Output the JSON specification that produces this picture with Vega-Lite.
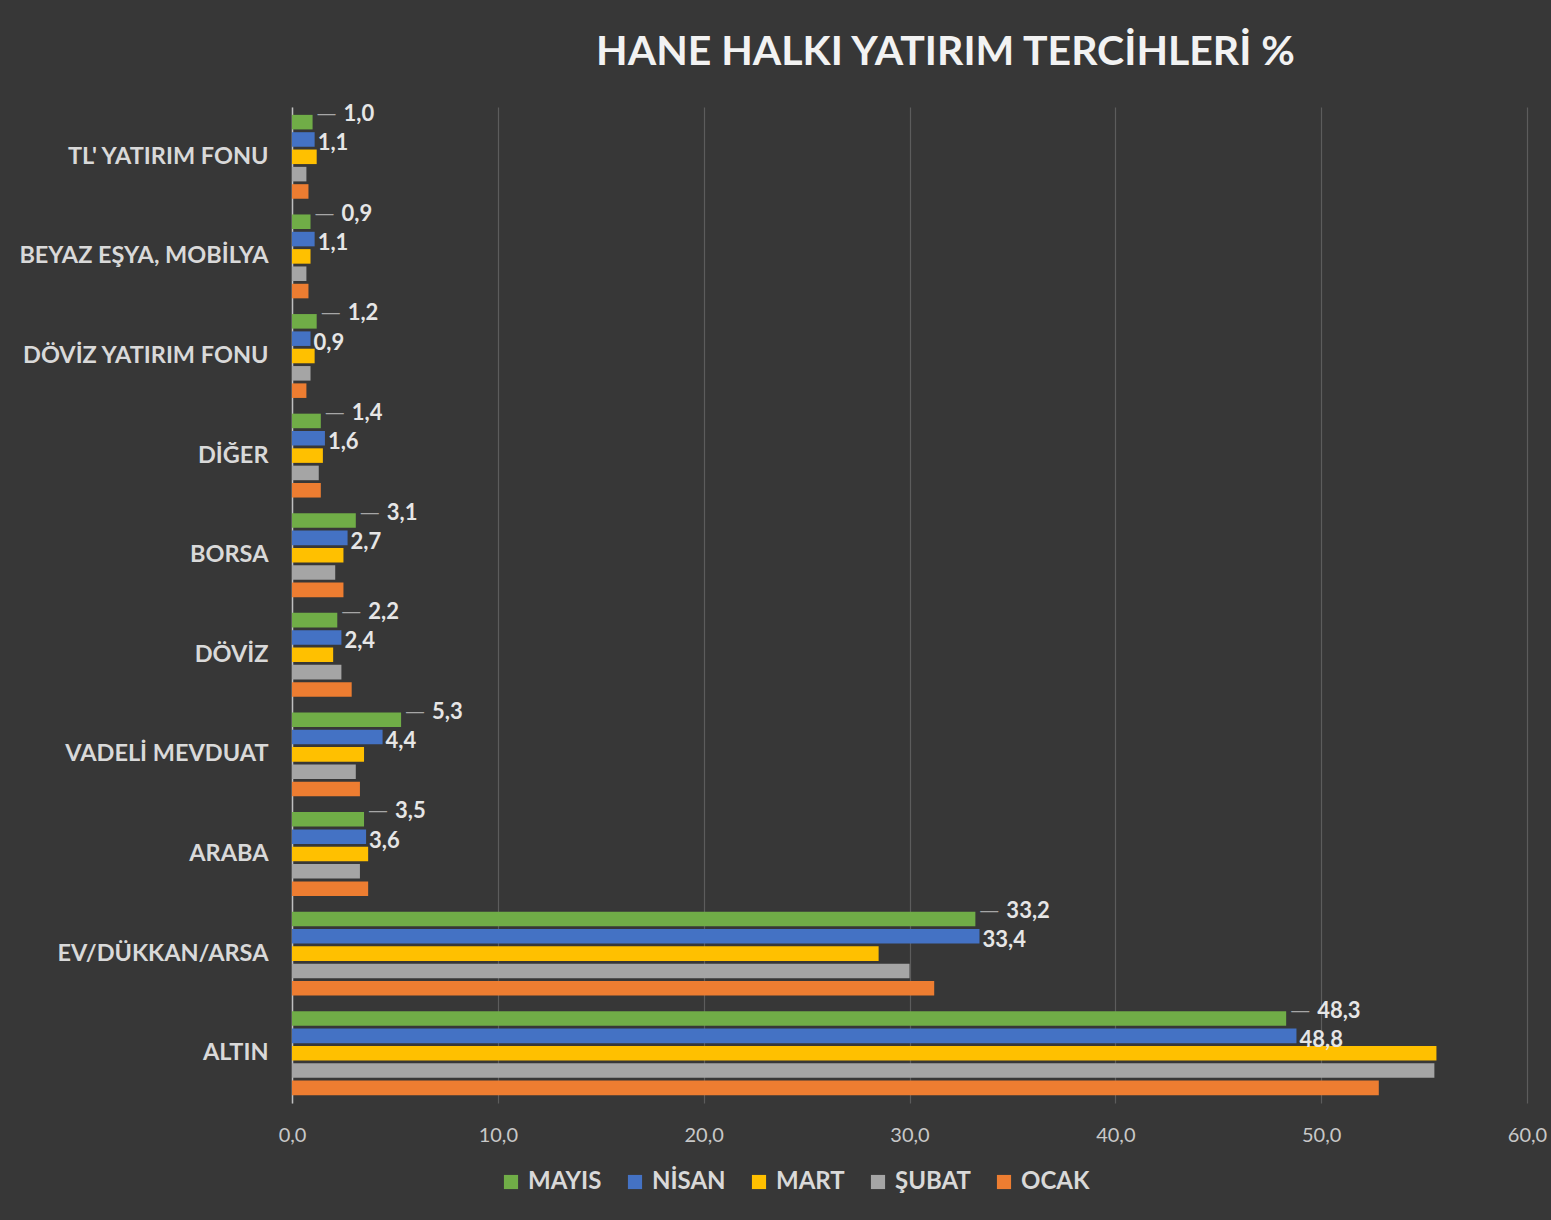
{
  "$schema": "https://vega.github.io/schema/vega-lite/v6.json",
  "width": 1235,
  "height": 996,
  "autosize": {"type": "none"},
  "padding": {"left": 292, "top": 107, "right": 24, "bottom": 117},
  "background": "#373737",
  "config": {
    "view": {"stroke": null},
    "locale": {"number": {"decimal": ",", "thousands": ".", "grouping": [3], "currency": ["", " TL"]}},
    "font": "Lato"
  },
  "title": {
    "text": "HANE HALKI YATIRIM TERCİHLERİ %",
    "font": "Lato",
    "fontSize": 41,
    "fontWeight": "bold",
    "color": "#f2f2f2",
    "anchor": "middle",
    "dx": 36,
    "offset": 29
  },
  "data": {
    "values": [
      {"kategori": "TL' YATIRIM FONU", "ay": "MAYIS", "deger": 1.0},
      {"kategori": "TL' YATIRIM FONU", "ay": "NİSAN", "deger": 1.1},
      {"kategori": "TL' YATIRIM FONU", "ay": "MART", "deger": 1.2},
      {"kategori": "TL' YATIRIM FONU", "ay": "ŞUBAT", "deger": 0.7},
      {"kategori": "TL' YATIRIM FONU", "ay": "OCAK", "deger": 0.8},
      {"kategori": "BEYAZ EŞYA, MOBİLYA", "ay": "MAYIS", "deger": 0.9},
      {"kategori": "BEYAZ EŞYA, MOBİLYA", "ay": "NİSAN", "deger": 1.1},
      {"kategori": "BEYAZ EŞYA, MOBİLYA", "ay": "MART", "deger": 0.9},
      {"kategori": "BEYAZ EŞYA, MOBİLYA", "ay": "ŞUBAT", "deger": 0.7},
      {"kategori": "BEYAZ EŞYA, MOBİLYA", "ay": "OCAK", "deger": 0.8},
      {"kategori": "DÖVİZ YATIRIM FONU", "ay": "MAYIS", "deger": 1.2},
      {"kategori": "DÖVİZ YATIRIM FONU", "ay": "NİSAN", "deger": 0.9},
      {"kategori": "DÖVİZ YATIRIM FONU", "ay": "MART", "deger": 1.1},
      {"kategori": "DÖVİZ YATIRIM FONU", "ay": "ŞUBAT", "deger": 0.9},
      {"kategori": "DÖVİZ YATIRIM FONU", "ay": "OCAK", "deger": 0.7},
      {"kategori": "DİĞER", "ay": "MAYIS", "deger": 1.4},
      {"kategori": "DİĞER", "ay": "NİSAN", "deger": 1.6},
      {"kategori": "DİĞER", "ay": "MART", "deger": 1.5},
      {"kategori": "DİĞER", "ay": "ŞUBAT", "deger": 1.3},
      {"kategori": "DİĞER", "ay": "OCAK", "deger": 1.4},
      {"kategori": "BORSA", "ay": "MAYIS", "deger": 3.1},
      {"kategori": "BORSA", "ay": "NİSAN", "deger": 2.7},
      {"kategori": "BORSA", "ay": "MART", "deger": 2.5},
      {"kategori": "BORSA", "ay": "ŞUBAT", "deger": 2.1},
      {"kategori": "BORSA", "ay": "OCAK", "deger": 2.5},
      {"kategori": "DÖVİZ", "ay": "MAYIS", "deger": 2.2},
      {"kategori": "DÖVİZ", "ay": "NİSAN", "deger": 2.4},
      {"kategori": "DÖVİZ", "ay": "MART", "deger": 2.0},
      {"kategori": "DÖVİZ", "ay": "ŞUBAT", "deger": 2.4},
      {"kategori": "DÖVİZ", "ay": "OCAK", "deger": 2.9},
      {"kategori": "VADELİ MEVDUAT", "ay": "MAYIS", "deger": 5.3},
      {"kategori": "VADELİ MEVDUAT", "ay": "NİSAN", "deger": 4.4},
      {"kategori": "VADELİ MEVDUAT", "ay": "MART", "deger": 3.5},
      {"kategori": "VADELİ MEVDUAT", "ay": "ŞUBAT", "deger": 3.1},
      {"kategori": "VADELİ MEVDUAT", "ay": "OCAK", "deger": 3.3},
      {"kategori": "ARABA", "ay": "MAYIS", "deger": 3.5},
      {"kategori": "ARABA", "ay": "NİSAN", "deger": 3.6},
      {"kategori": "ARABA", "ay": "MART", "deger": 3.7},
      {"kategori": "ARABA", "ay": "ŞUBAT", "deger": 3.3},
      {"kategori": "ARABA", "ay": "OCAK", "deger": 3.7},
      {"kategori": "EV/DÜKKAN/ARSA", "ay": "MAYIS", "deger": 33.2},
      {"kategori": "EV/DÜKKAN/ARSA", "ay": "NİSAN", "deger": 33.4},
      {"kategori": "EV/DÜKKAN/ARSA", "ay": "MART", "deger": 28.5},
      {"kategori": "EV/DÜKKAN/ARSA", "ay": "ŞUBAT", "deger": 30.0},
      {"kategori": "EV/DÜKKAN/ARSA", "ay": "OCAK", "deger": 31.2},
      {"kategori": "ALTIN", "ay": "MAYIS", "deger": 48.3},
      {"kategori": "ALTIN", "ay": "NİSAN", "deger": 48.8},
      {"kategori": "ALTIN", "ay": "MART", "deger": 55.6},
      {"kategori": "ALTIN", "ay": "ŞUBAT", "deger": 55.5},
      {"kategori": "ALTIN", "ay": "OCAK", "deger": 52.8}
    ]
  },
  "encoding": {
    "y": {
      "field": "kategori",
      "type": "nominal",
      "sort": ["TL' YATIRIM FONU", "BEYAZ EŞYA, MOBİLYA", "DÖVİZ YATIRIM FONU", "DİĞER", "BORSA", "DÖVİZ", "VADELİ MEVDUAT", "ARABA", "EV/DÜKKAN/ARSA", "ALTIN"],
      "scale": {"paddingInner": 0.13, "paddingOuter": 0.065},
      "axis": {
        "title": null,
        "ticks": false,
        "domain": true,
        "domainColor": "#bfbfbf",
        "domainWidth": 1.5,
        "labelFont": "Lato",
        "labelFontSize": 23.5,
        "labelFontWeight": "bold",
        "labelColor": "#d9d9d9",
        "labelPadding": 24,
        "labelLimit": 0,
        "grid": false
      }
    },
    "yOffset": {
      "field": "ay",
      "type": "nominal",
      "sort": ["MAYIS", "NİSAN", "MART", "ŞUBAT", "OCAK"],
      "scale": {"paddingInner": 0.16, "paddingOuter": 0.08}
    },
    "x": {
      "field": "deger",
      "type": "quantitative",
      "scale": {"domain": [0, 60], "nice": false},
      "axis": {
        "title": null,
        "values": [0, 10, 20, 30, 40, 50, 60],
        "format": ".1f",
        "ticks": false,
        "domain": false,
        "grid": true,
        "gridColor": "#5c5c5c",
        "gridWidth": 1.2,
        "labelFont": "Lato",
        "labelFontSize": 20,
        "labelColor": "#c8c8c8",
        "labelPadding": 22,
        "labelFlush": false,
        "labelAlign": "center",
        "labelOverlap": false
      }
    }
  },
  "layer": [
    {
      "mark": {"type": "bar"},
      "encoding": {
        "color": {
          "field": "ay",
          "type": "nominal",
          "sort": ["MAYIS", "NİSAN", "MART", "ŞUBAT", "OCAK"],
          "scale": {
            "domain": ["MAYIS", "NİSAN", "MART", "ŞUBAT", "OCAK"],
            "range": ["#70ad47", "#4472c4", "#ffc000", "#a5a5a5", "#ed7d31"]
          },
          "legend": {
            "title": null,
            "orient": "none",
            "direction": "horizontal",
            "legendX": 207,
            "legendY": 1063,
            "symbolType": "square",
            "symbolSize": 200,
            "symbolStrokeWidth": 0,
            "symbolOpacity": 1,
            "labelFont": "Lato",
            "labelFontSize": 24,
            "labelFontWeight": "bold",
            "labelColor": "#d9d9d9",
            "labelOffset": 5,
            "columnPadding": 21,
            "padding": 0
          }
        }
      }
    },
    {
      "transform": [{"filter": "datum.ay === 'MAYIS'"}],
      "mark": {"type": "text", "text": "—", "align": "left", "baseline": "middle", "dx": 4, "dy": -8, "font": "DejaVu Sans", "fontSize": 20, "color": "#a6a6a6"},
      "encoding": {}
    },
    {
      "transform": [{"filter": "datum.ay === 'MAYIS'"}],
      "mark": {"type": "text", "align": "left", "baseline": "middle", "dx": 31, "dy": -8, "font": "Lato", "fontSize": 22, "fontWeight": "bold", "color": "#e6e6e6"},
      "encoding": {"text": {"field": "deger", "type": "quantitative", "format": ".1f"}}
    },
    {
      "transform": [{"filter": "datum.ay === 'NİSAN'"}],
      "mark": {"type": "text", "align": "left", "baseline": "middle", "dx": 3, "dy": 4, "font": "Lato", "fontSize": 22, "fontWeight": "bold", "color": "#e6e6e6"},
      "encoding": {"text": {"field": "deger", "type": "quantitative", "format": ".1f"}}
    }
  ]
}
